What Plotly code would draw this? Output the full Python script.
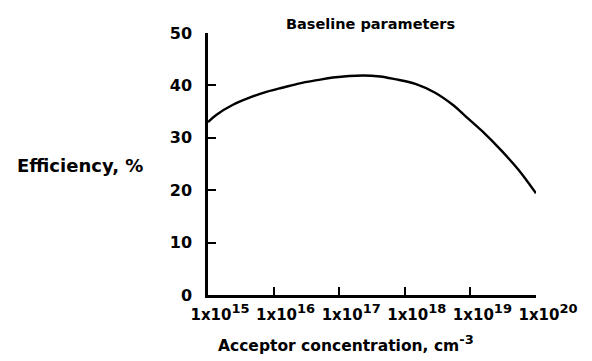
import plotly.graph_objects as go

# Data
acceptor_conc = [1e15, 1.35e15, 2.4e15, 4.4e15, 8e15, 1.4e16, 2.5e16, 4.6e16, 8e16,
                 2.3e17, 4.2e17, 7e17, 1.45e18, 2.9e18, 5.5e18, 8.3e18,
                 1.5e19, 3e19, 5.4e19, 1e20]
efficiency = [33.0, 34.4, 36.3, 37.7, 38.8, 39.6, 40.4, 41.0, 41.5,
              41.9, 41.7, 41.2, 40.3, 38.6, 36.2, 34.2,
              31.3, 27.5, 23.9, 19.4]

x_tick_vals = [1e15, 1e16, 1e17, 1e18, 1e19, 1e20]
x_tick_base = "1x10"
x_tick_exps = ["15", "16", "17", "18", "19", "20"]
x_tick_text = [x_tick_base + "<sup><span style='font-size:13px'>" + e + "</span></sup>"
               for e in x_tick_exps]
y_tick_vals = [0, 10, 20, 30, 40, 50]

FONT = "DejaVu Sans"

fig = go.Figure()
fig.add_trace(go.Scatter(x=acceptor_conc, y=efficiency, mode="lines",
                         line=dict(color="black", width=2.4, shape="spline", smoothing=1.0),
                         hoverinfo="skip", showlegend=False))

fig.update_layout(
    width=584, height=353,
    margin=dict(l=200, r=56, t=25, b=66, pad=0),
    paper_bgcolor="white", plot_bgcolor="white",
    font=dict(family=FONT, color="black", size=15, weight="bold"),
    showlegend=False,
)
fig.update_xaxes(type="log", range=[15, 20], tickvals=x_tick_vals, ticktext=x_tick_text,
                 showline=True, linecolor="black", linewidth=2.5,
                 ticks="inside", ticklen=8, tickwidth=2, tickcolor="black",
                 showgrid=False, zeroline=False,
                 tickfont=dict(family=FONT, size=15, weight="bold"),
                 ticklabelshift=12, ticklabelstandoff=4)
fig.update_yaxes(range=[0, 50], tickvals=y_tick_vals,
                 showline=True, linecolor="black", linewidth=2.5,
                 ticks="inside", ticklen=8, tickwidth=2, tickcolor="black",
                 showgrid=False, zeroline=False,
                 tickfont=dict(family=FONT, size=16, weight="bold"),
                 ticklabelstandoff=10)

fig.add_annotation(text="Baseline parameters", xref="paper", yref="paper",
                   x=0.494, y=1.034, xanchor="center", yanchor="middle", showarrow=False,
                   font=dict(family=FONT, size=14.5, weight="bold"))
fig.add_annotation(text="Efficiency, %", xref="paper", yref="paper",
                   x=-0.588, y=0.496, xanchor="left", yanchor="middle", showarrow=False,
                   font=dict(family=FONT, size=18, weight="bold"))
fig.add_annotation(text="Acceptor concentration, cm<sup><span style='font-size:13px'>-3</span></sup>",
                   xref="paper", yref="paper",
                   x=0.42, y=-0.187, xanchor="center", yanchor="middle", showarrow=False,
                   font=dict(family=FONT, size=15.5, weight="bold"))

fig.write_html("out.html")
